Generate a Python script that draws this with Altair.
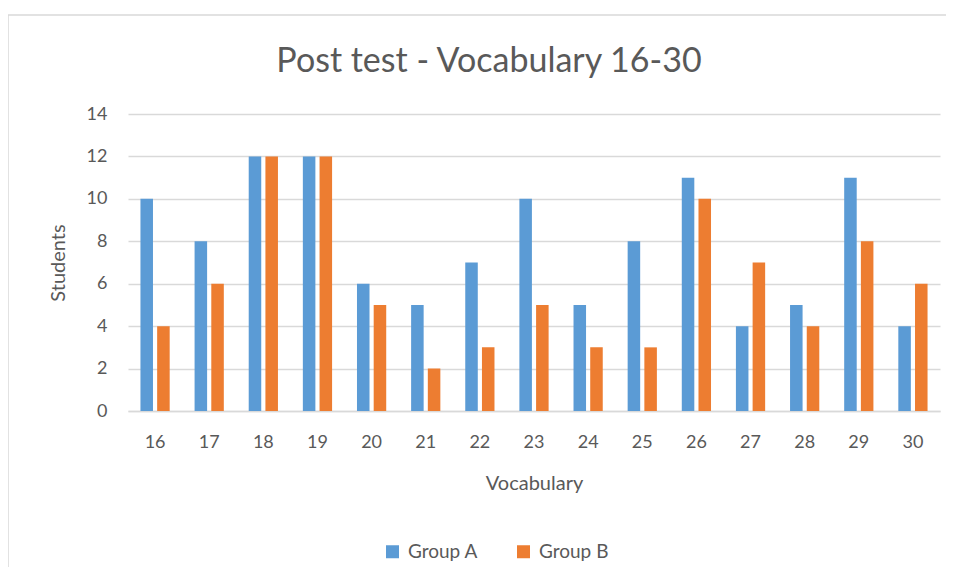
import altair as alt
import pandas as pd

vocab = [str(v) for v in range(16, 31)]
group_a = [10, 8, 12, 12, 6, 5, 7, 10, 5, 8, 11, 4, 5, 11, 4]
group_b = [4, 6, 12, 12, 5, 2, 3, 5, 3, 3, 10, 7, 4, 8, 6]
groups = ["Group A", "Group B"]
colors = ["#5B9BD5", "#ED7D31"]

rows = []
for v, a, b in zip(vocab, group_a, group_b):
    rows.append({"Vocabulary": v, "Group": groups[0], "Students": a})
    rows.append({"Vocabulary": v, "Group": groups[1], "Students": b})
df = pd.DataFrame(rows)

FONT = "Lato"
TXT = "#595959"

bars = alt.Chart(df).mark_bar().encode(
    x=alt.X("Vocabulary:N", sort=vocab,
            scale=alt.Scale(paddingInner=0.46, paddingOuter=0.23),
            axis=alt.Axis(title="Vocabulary", labelAngle=0, ticks=False,
                          domainColor="#d9d9d9", domainWidth=1.5,
                          labelPadding=22, titlePadding=22)),
    xOffset=alt.XOffset("Group:N", sort=groups, scale=alt.Scale(paddingInner=0.25)),
    y=alt.Y("Students:Q", scale=alt.Scale(domain=[0, 14]),
            axis=alt.Axis(title="Students", values=list(range(0, 15, 2)),
                          ticks=False, domain=False, gridColor="#d9d9d9",
                          gridWidth=1.5, labelPadding=21, titlePadding=18)),
    color=alt.Color("Group:N", sort=groups,
                    scale=alt.Scale(domain=groups, range=colors),
                    legend=alt.Legend(title=None, orient="none", direction="horizontal",
                                      legendX=255, legendY=428,
                                      symbolType="square", symbolSize=169,
                                      symbolStrokeWidth=0, labelFontSize=19,
                                      labelColor=TXT, labelFont=FONT, labelOffset=6,
                                      columnPadding=36)),
)

frame = alt.Chart(pd.DataFrame({"k": [0]})).mark_rect(
    fill="transparent", stroke="#d9d9d9", strokeWidth=1.5
).encode(x=alt.value(-120), x2=alt.value(840), y=alt.value(-99), y2=alt.value(480))

chart = alt.layer(frame, bars).properties(
    width=812,
    height=297,
    title=alt.TitleParams("Post test - Vocabulary 16-30", fontSize=34, font=FONT,
                          fontWeight="normal", color=TXT, offset=0, dy=65, dx=-45),
    padding={"left": 120, "top": 106, "right": 6, "bottom": 156},
    autosize=alt.AutoSizeParams(type="none"),
    background="white",
).configure_view(stroke=None).configure_axis(
    labelFont=FONT, titleFont=FONT, labelFontSize=18, titleFontSize=20,
    labelColor=TXT, titleColor=TXT, titleFontWeight="normal"
)

chart.save("out.html", embed_options={"renderer": "svg", "actions": False})
